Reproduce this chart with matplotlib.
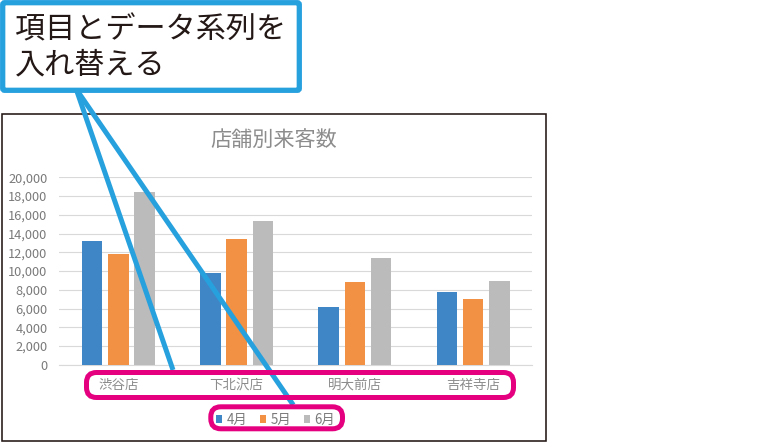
import numpy as np
import matplotlib
matplotlib.use("Agg")
import matplotlib.pyplot as plt
from matplotlib.patches import FancyBboxPatch, Rectangle
from matplotlib.lines import Line2D
from matplotlib.transforms import IdentityTransform
from matplotlib.ticker import StrMethodFormatter

plt.rcParams["font.family"] = ["Noto Sans CJK JP", "DejaVu Sans"]

stores = ["渋谷店", "下北沢店", "明大前店", "吉祥寺店"]
months = ["4月", "5月", "6月"]
apr = [13200, 9800, 6200, 7800]
may = [11850, 13450, 8800, 7050]
jun = [18450, 15370, 11360, 8900]
colors = ["#3F86C6", "#F29143", "#BBBBBB"]

title = "店舗別来客数"
callout = "項目とデータ系列を\n入れ替える"

W, H = 783, 442
fig = plt.figure(figsize=(W / 100, H / 100), dpi=100)
pix = IdentityTransform()


def py(y):
    # top-based pixel y -> display y
    return H - y


# chart frame
fig.patches.append(Rectangle((2, py(441)), 544, 327, transform=pix, fill=False,
                             edgecolor="#231815", linewidth=1.15, zorder=1))

# plot area
left, right, top, bottom = 59.2, 532.4, 177.3, 364.8
ax = fig.add_axes([left / W, (H - bottom) / H, (right - left) / W, (bottom - top) / H])
x = np.arange(len(stores))
width = 0.173
step = 0.222
for i, (vals, c, m) in enumerate(zip([apr, may, jun], colors, months)):
    ax.bar(x + (i - 1) * step, vals, width, color=c, label=m, zorder=3)

ax.set_xlim(-0.5, len(stores) - 0.5)
ax.set_ylim(0, 20000)
ax.set_yticks(range(0, 20001, 2000))
ax.yaxis.set_major_formatter(StrMethodFormatter("{x:,.0f}"))
ax.set_xticks([])
ax.tick_params(axis="y", length=0, pad=8.4, labelsize=9.2, labelcolor="#7A7A7A")
ax.grid(axis="y", color="#D9D9D9", linewidth=0.8, zorder=0)
for s in ["left", "right", "top"]:
    ax.spines[s].set_visible(False)
ax.spines["bottom"].set_color("#D9D9D9")
ax.spines["bottom"].set_linewidth(0.8)
ax.patch.set_alpha(0)

for xi, name in zip(x, stores):
    ax.text(xi, -19.7 / (bottom - top), name, transform=ax.get_xaxis_transform(),
            ha="center", va="center", fontsize=9.7, color="#8C8C8C")

fig.text(274 / W, py(140) / H, title, ha="center", va="center",
         fontsize=15.2, color="#8C8C8C")

ax.legend(loc="center", bbox_to_anchor=(275.4 / W, py(419.5) / H),
          bbox_transform=fig.transFigure, ncol=3, frameon=False,
          fontsize=9.6, labelcolor="#7A7A7A", handlelength=0.5, handleheight=0.5,
          handletextpad=0.3, columnspacing=0.95, borderpad=0, borderaxespad=0)

# blue pointer lines
blue = "#27A0DE"
for x0, y0, x1, y1 in [(76.5, 90, 173, 370), (76.8, 90, 293.3, 405)]:
    fig.lines.append(Line2D([x0, x1], [py(y0), py(y1)], transform=pix, color=blue,
                            linewidth=3.6, solid_capstyle="butt", zorder=5))

# magenta highlight boxes
mag = "#E4007F"
for x0, y0, x1, y1 in [(86.5, 372.5, 513.5, 397.5), (210.8, 406.8, 342.5, 428.8)]:
    fig.patches.append(FancyBboxPatch((x0, py(y1)), x1 - x0, y1 - y0,
                                      boxstyle="round,pad=0,rounding_size=10",
                                      transform=pix, fill=False, edgecolor=mag,
                                      linewidth=3.6, zorder=6))

# callout box
fig.patches.append(FancyBboxPatch((2.7, py(90.3)), 296.6, 87.6,
                                  boxstyle="round,pad=0,rounding_size=2",
                                  transform=pix, facecolor="white", edgecolor=blue,
                                  linewidth=3.8, zorder=7))
fig.text(15 / W, py(47.5) / H, callout, ha="left", va="center", fontsize=21.7,
         color="#231815", linespacing=1.15, zorder=8)

fig.savefig("out.png", dpi=100)
